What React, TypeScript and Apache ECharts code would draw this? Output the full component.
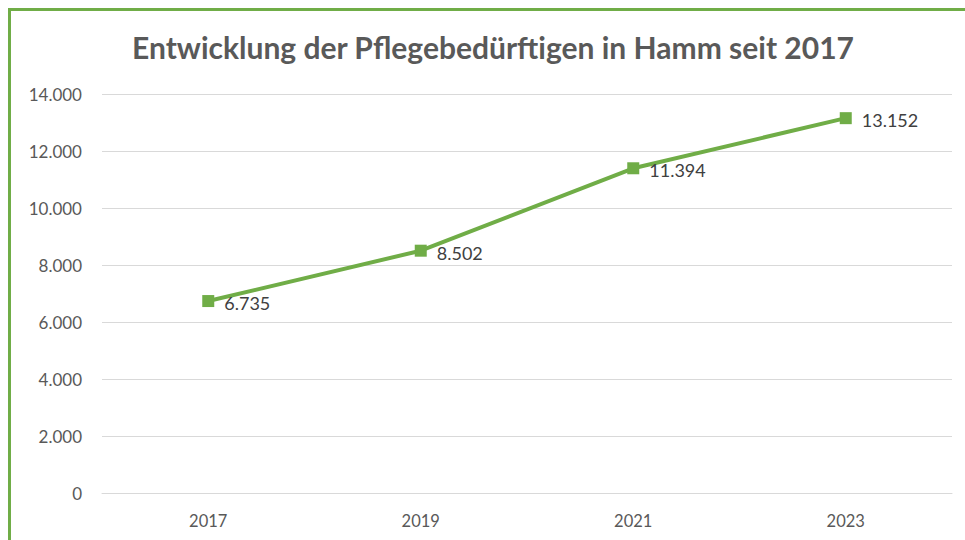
import React, { useEffect, useRef } from "react";
import * as echarts from "echarts";

const categories = ["2017", "2019", "2021", "2023"];
const values = [6735, 8502, 11394, 13152];
const titleText = "Entwicklung der Pflegebedürftigen in Hamm seit 2017";

const fmt = (v: number) => {
  const s = Math.round(v).toString();
  return s.replace(/\B(?=(\d{3})+(?!\d))/g, ".");
};

export default function App() {
  const ref = useRef<HTMLDivElement>(null);
  useEffect(() => {
    if (!ref.current) return;
    const chart = echarts.init(ref.current, undefined, { renderer: "svg" });
    const font = "Lato";
    chart.setOption({
      animation: false,
      backgroundColor: "#ffffff",
      title: {
        text: titleText,
        left: 488,
        textAlign: "center",
        top: 27,
        textStyle: { fontFamily: font, fontWeight: "bold", fontSize: 30, color: "#595959" },
      },
      graphic: [
        {
          type: "rect",
          shape: { x: 9.5, y: 9.5, width: 1000, height: 600 },
          style: { fill: "none", stroke: "#70AD47", lineWidth: 3 },
          silent: true,
        },
      ],
      grid: { left: 102, right: 13, top: 94, bottom: 47, containLabel: false },
      xAxis: {
        type: "category",
        data: categories,
        boundaryGap: true,
        axisLine: { lineStyle: { color: "#D9D9D9", width: 1 } },
        axisTick: { show: false },
        axisLabel: { fontFamily: font, fontSize: 16.5, color: "#595959", margin: 19 },
      },
      yAxis: {
        type: "value",
        min: 0,
        max: 14000,
        interval: 2000,
        axisLine: { show: false },
        axisTick: { show: false },
        splitLine: { lineStyle: { color: "#D9D9D9", width: 1 } },
        axisLabel: {
          fontFamily: font,
          fontSize: 17,
          color: "#595959",
          margin: 20,
          formatter: (v: number) => fmt(v),
        },
      },
      series: [
        {
          type: "line",
          data: values,
          symbol: "rect",
          symbolSize: 12,
          lineStyle: { color: "#70AD47", width: 4 },
          itemStyle: { color: "#70AD47" },
          label: {
            show: true,
            position: "right",
            distance: 10,
            offset: [0, 2],
            fontFamily: font,
            fontSize: 18,
            color: "#404040",
            formatter: (p: any) => fmt(p.value),
          },
        },
      ],
    });
    return () => chart.dispose();
  }, []);
  return (
    <div
      ref={ref}
      style={{ position: "absolute", left: 0, top: 0, width: 965, height: 540 }}
    />
  );
}
